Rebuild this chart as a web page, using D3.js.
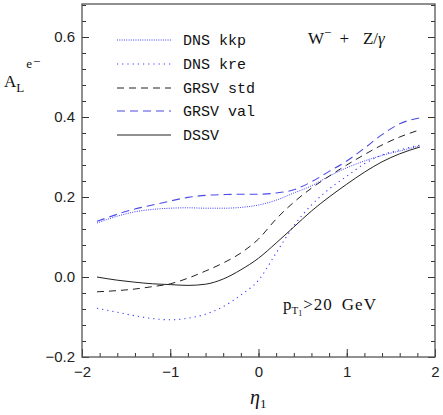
<!DOCTYPE html>
<html lang="en">
<head>
<meta charset="UTF-8">
<title>A_L W- + Z/gamma</title>
<style>
  body { margin: 0; background: #fff; }
  .tick text { font-family: "Liberation Sans", sans-serif; font-size: 15px; fill: #222; }
  .lab { font-family: "Liberation Serif", serif; fill: #111; }
  .leg { font-family: "Liberation Mono", monospace; font-size: 15px; fill: #111; }
</style>
</head>
<body>
<svg id="chart"></svg>
<script src="https://cdn.jsdelivr.net/npm/d3@7"></script>
<script>
// eta values shared by every curve
var eta = [-1.83, -1.6, -1.4, -1.2, -1.0, -0.8, -0.6, -0.4, -0.2, 0.0, 0.2, 0.4, 0.6, 0.8, 1.0, 1.2, 1.4, 1.6, 1.83];

var dnsKkp  = [0.135, 0.152, 0.163, 0.169, 0.172, 0.173, 0.172, 0.172, 0.174, 0.180, 0.192, 0.210, 0.228, 0.252, 0.273, 0.290, 0.304, 0.315, 0.328];
var dnsKre  = [-0.078, -0.088, -0.097, -0.104, -0.107, -0.103, -0.093, -0.074, -0.045, -0.008, 0.060, 0.128, 0.180, 0.220, 0.252, 0.283, 0.305, 0.318, 0.330];
var grsvStd = [-0.037, -0.034, -0.030, -0.024, -0.017, -0.003, 0.015, 0.035, 0.060, 0.095, 0.145, 0.187, 0.222, 0.252, 0.280, 0.306, 0.330, 0.350, 0.368];
var grsvVal = [0.139, 0.157, 0.170, 0.180, 0.190, 0.199, 0.204, 0.206, 0.207, 0.207, 0.210, 0.218, 0.238, 0.264, 0.290, 0.322, 0.356, 0.383, 0.398];
var dssv    = [0.000, -0.008, -0.013, -0.017, -0.019, -0.021, -0.018, -0.005, 0.018, 0.047, 0.085, 0.125, 0.165, 0.200, 0.232, 0.262, 0.288, 0.308, 0.325];

var seriesNames = ["DNS kkp", "DNS kre", "GRSV std", "GRSV val", "DSSV"];
var xTicks = [-2, -1, 0, 1, 2];
var yTicks = [-0.2, 0.0, 0.2, 0.4, 0.6];

var width = 443, height = 415;
var plotL = 82, plotR = 435, plotT = 4, plotB = 357;

var svg = d3.select("#chart").attr("width", width).attr("height", height);

var x = d3.scaleLinear().domain([-2, 2]).range([plotL, plotR]);
var y = d3.scaleLinear().domain([-0.2, 0.6825]).range([plotB, plotT]);

// minor ticks
svg.append("g").attr("transform", "translate(0," + plotB + ")")
  .call(d3.axisBottom(x).tickValues(d3.range(-2, 2.001, 0.2)).tickSize(-4).tickFormat(""));
svg.append("g").attr("transform", "translate(" + plotL + ",0)")
  .call(d3.axisLeft(y).tickValues(d3.range(-0.2, 0.69, 0.04)).tickSize(-4).tickFormat(""));
svg.append("g").attr("transform", "translate(" + plotR + ",0)")
  .call(d3.axisRight(y).tickValues(d3.range(-0.2, 0.69, 0.04)).tickSize(-4).tickFormat(""));

// major ticks with labels
svg.append("g").attr("transform", "translate(0," + plotB + ")")
  .call(d3.axisBottom(x).tickValues(xTicks).tickSize(-8).tickPadding(9).tickFormat(d3.format("d")));
svg.append("g").attr("transform", "translate(" + plotL + ",0)")
  .call(d3.axisLeft(y).tickValues(yTicks).tickSize(-7).tickPadding(7).tickFormat(d3.format(".1f")));
svg.append("g").attr("transform", "translate(" + plotR + ",0)")
  .call(d3.axisRight(y).tickValues(yTicks).tickSize(-7).tickFormat(""));

svg.selectAll(".domain").remove();
svg.selectAll(".tick line").attr("stroke", "#333");

svg.append("rect")
  .attr("x", plotL).attr("y", plotT)
  .attr("width", plotR - plotL).attr("height", plotB - plotT)
  .attr("fill", "none").attr("stroke", "#555").attr("stroke-width", 1.3);

var styles = [
  { data: dnsKkp,  color: "#3c3cff", dash: "1,1.3", w: 1 },
  { data: dnsKre,  color: "#3c3cff", dash: "1.2,4", w: 1.1 },
  { data: grsvStd, color: "#222",    dash: "7,5",   w: 1 },
  { data: grsvVal, color: "#4a4ae8", dash: "8,5",   w: 1.1 },
  { data: dssv,    color: "#222",    dash: null,    w: 1 }
];

var line = d3.line()
  .x(function (d) { return x(d[0]); })
  .y(function (d) { return y(d[1]); })
  .curve(d3.curveMonotoneX);

styles.forEach(function (s) {
  svg.append("path")
    .datum(eta.map(function (e, i) { return [e, s.data[i]]; }))
    .attr("d", line)
    .attr("fill", "none")
    .attr("stroke", s.color)
    .attr("stroke-width", s.w)
    .attr("stroke-dasharray", s.dash);
});

// legend
var legY = [40, 64, 88, 111, 135];
styles.forEach(function (s, i) {
  svg.append("line")
    .attr("x1", 117).attr("x2", 171)
    .attr("y1", legY[i]).attr("y2", legY[i])
    .attr("stroke", s.color)
    .attr("stroke-width", s.w)
    .attr("stroke-dasharray", s.dash);
  svg.append("text").attr("class", "leg")
    .attr("x", 183).attr("y", legY[i] + 5)
    .text(seriesNames[i]);
});

// y axis title A_L^{e-}
var yt = svg.append("text").attr("class", "lab").attr("x", 4).attr("y", 87).style("font-size", "17px");
yt.append("tspan").text("A");
yt.append("tspan").attr("dy", 5).style("font-size", "13px").text("L");
yt.append("tspan").attr("dy", -24).attr("dx", 2).style("font-size", "13px").text("e");
yt.append("tspan").attr("dy", -2).attr("dx", 1).style("font-size", "13px").text("−");

// process label
var pl = svg.append("text").attr("class", "lab").attr("x", 308).attr("y", 44).style("font-size", "17px");
pl.append("tspan").text("W");
pl.append("tspan").attr("dy", -7).style("font-size", "13px").text("−");
pl.append("tspan").attr("dy", 7).attr("dx", 8).text("+");
pl.append("tspan").attr("dx", 14).text("Z/");
pl.append("tspan").style("font-style", "italic").text("γ");

// cut label
var cl = svg.append("text").attr("class", "lab").attr("x", 283).attr("y", 310).style("font-size", "17px");
cl.append("tspan").text("p");
cl.append("tspan").attr("dy", 4).style("font-size", "11px").text("T");
cl.append("tspan").attr("dy", 2).style("font-size", "8px").text("1");
cl.append("tspan").attr("dy", -6).attr("dx", 1).style("letter-spacing", "1px").text(">20");
cl.append("tspan").attr("dx", 9).style("letter-spacing", "1px").text("GeV");

// x axis title eta_1
var xt = svg.append("text").attr("class", "lab").attr("x", 250).attr("y", 404).style("font-size", "20px");
xt.append("tspan").style("font-style", "italic").text("η");
xt.append("tspan").attr("dy", 4).style("font-size", "13px").text("1");
</script>
</body>
</html>
